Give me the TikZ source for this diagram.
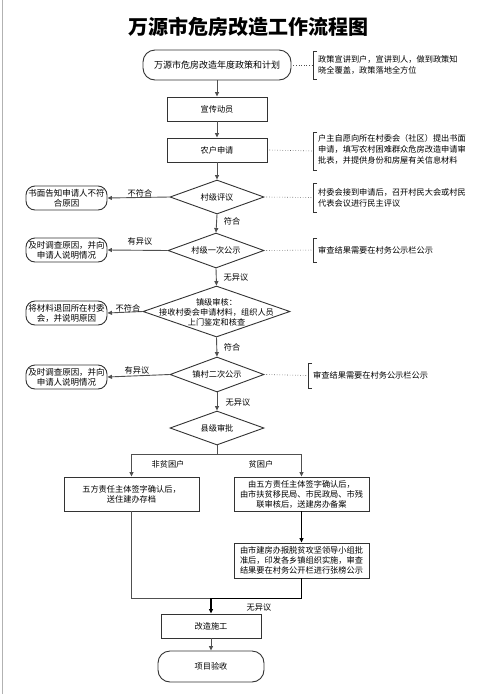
\documentclass[tikz,border=0pt]{standalone}
\usepackage{fontspec}
\setmainfont{Noto Sans CJK SC}
\newfontfamily\cjk{Noto Sans CJK SC}
\usetikzlibrary{shapes.geometric,arrows.meta}
\definecolor{lc}{HTML}{505050}
\definecolor{bc}{HTML}{333333}
\tikzset{
  every node/.style={font=\cjk\fontsize{8.2}{10}\selectfont, inner sep=0pt},
  boxn/.style={draw=bc, line width=0.9pt, rectangle, align=center},
  roundn/.style={draw=bc, line width=0.9pt, rectangle, rounded corners=11pt, align=center},
  sidebox/.style={draw=bc, line width=0.9pt, rectangle, rounded corners=9pt, align=center, minimum width=81pt, minimum height=24pt, font=\cjk\fontsize{8.5}{10}\selectfont},
  dia/.style={draw=bc, line width=0.9pt, diamond, minimum width=94pt, minimum height=34pt},
  arr/.style={draw=lc, line width=0.9pt, -{Triangle[length=4.5pt,width=4pt]}},
  conn/.style={draw=lc, line width=0.9pt},
  dotl/.style={draw=lc, line width=0.6pt, dotted},
  brk/.style={draw=bc, line width=0.9pt},
  note/.style={anchor=west, align=left, font=\cjk\fontsize{8.2}{11}\selectfont},
  lab/.style={font=\cjk\fontsize{8.2}{10}\selectfont}
}
\begin{document}
\begin{tikzpicture}[x=1pt,y=-1pt]
\useasboundingbox (0,0) rectangle (490,694);
\fill[white] (0,0) rectangle (490,694);
\draw[gray!60, line width=0.8pt] (2,0) -- (2,694);

% title
\node (title) at (248,27) {\cjk\bfseries\fontsize{20}{22}\selectfont 万源市危房改造工作流程图};

% main column
\node[roundn, rounded corners=12pt, minimum width=148pt, minimum height=30pt, font=\cjk\fontsize{9}{11}\selectfont] (S) at (217,65) {万源市危房改造年度政策和计划};
\node[boxn, minimum width=100pt, minimum height=24pt] (B1) at (217,109) {宣传动员};
\node[boxn, minimum width=100pt, minimum height=24pt] (B2) at (217,150) {农户申请};
\node[dia] (D1) at (217,197) {};
\node (D1t) at (D1) {村级评议};
\node[dia, minimum height=35pt, minimum width=96pt] (D2) at (216,250.5) {};
\node (D2t) at (D2) {村级一次公示};
\node[dia, minimum width=147pt, minimum height=51pt] (D3) at (216.5,311.5) {};
\node[align=center] (D3t) at (216.5,312) {镇级审核：\\接收村委会申请材料，组织人员\\上门鉴定和核查};
\node[dia, minimum height=35pt] (D4) at (217,374.5) {};
\node (D4t) at (D4) {镇村二次公示};
\node[dia] (D5) at (217,428) {};
\node (D5t) at (D5) {县级审批};

\node[boxn, minimum width=135pt, minimum height=34pt] (P1) at (131.5,494) {五方责任主体签字确认后，\\送住建办存档};
\node[boxn, minimum width=135pt, minimum height=34pt] (P2) at (301.5,494) {由五方责任主体签字确认后，\\由市扶贫移民局、市民政局、市残\\联审核后，送建房办备案};
\node[boxn, minimum width=135pt, minimum height=35pt] (P3) at (301.5,560.5) {由市建房办报脱贫攻坚领导小组批\\准后，印发各乡镇组织实施，审查\\结果要在村务公开栏进行张榜公示};
\node[boxn, minimum width=100pt, minimum height=24pt] (C) at (211,626) {改造施工};
\node[roundn, rounded corners=12pt, minimum width=106pt, minimum height=31pt] (E) at (211,666.5) {项目验收};

% left side nodes
\node[sidebox] (L1) at (66.5,198) {书面告知申请人不符\\合原因};
\node[sidebox] (L2) at (66.5,250) {及时调查原因，并向\\申请人说明情况};
\node[sidebox] (L3) at (66.5,313) {将材料退回所在村委\\会，并说明原因};
\node[sidebox] (L4) at (66.5,377) {及时调查原因，并向\\申请人说明情况};

% notes
\node[note] (A1) at (318,65) {政策宣讲到户，宣讲到人，做到政策知\\晓全覆盖，政策落地全方位};
\node[note] (A2) at (318,149.5) {户主自愿向所在村委会（社区）提出书面\\申请，填写农村困难群众危房改造申请审\\批表，并提供身份和房屋有关信息材料};
\node[note] (A3) at (318,197.5) {村委会接到申请后，召开村民大会或村民\\代表会议进行民主评议};
\node[note] (A4) at (318,250) {审查结果需要在村务公示栏公示};
\node[note] (A5) at (313,375) {审查结果需要在村务公示栏公示};

% brackets
\coordinate (k1) at (313,65);
\coordinate (k2) at (313,151);
\coordinate (k3) at (313,197.5);
\coordinate (k4) at (313,250);
\coordinate (k5) at (308,375.5);
\draw[brk] (317,51) -- (313,51) -- (313,79) -- (317,79);
\draw[brk] (317,132) -- (313,132) -- (313,170) -- (317,170);
\draw[brk] (317,183) -- (313,183) -- (313,212) -- (317,212);
\draw[brk] (317,238) -- (313,238) -- (313,262) -- (317,262);
\draw[brk] (312,363) -- (308,363) -- (308,388) -- (312,388);

% dotted links
\draw[dotl] (S.east) ++(2,0) -- (k1);
\draw[dotl] (B2.east) ++(2,0) -- (k2);
\draw[dotl] (D1.east) ++(2,0) -- (k3);
\draw[dotl] (D2.east) ++(2,0) -- (k4);
\draw[dotl] (D4.east) ++(2,0) -- (k5);

% main connectors
\draw[arr] (S.south) -- (B1.north);
\draw[arr] (B1.south) -- (B2.north);
\draw[arr] (B2.south) -- (D1.north);
\draw[arr] (D1.south) -- (D2.north);
\draw[arr] (D2.south) -- (D3.north);
\draw[arr] (D3.south) -- (D4.north);
\draw[arr] (D4.south) -- (D5.north);

\draw[arr] (D1.west) -- (L1.east);
\draw[arr] (D2.west) -- (L2.east);
\draw[arr] (D3.west) -- (L3.east);
\draw[arr] (D4.west) -- (L4.east);

% labels
\node[lab] (t1) at (140,193) {不符合};
\node[lab] (t2) at (140,241) {有异议};
\node[lab] (t3) at (128,308) {不符合};
\node[lab] (t4) at (137,370) {有异议};
\node[lab] (t5) at (232,221) {符合};
\node[lab] (t6) at (236,277) {无异议};
\node[lab] (t7) at (232,347.5) {符合};
\node[lab] (t8) at (238,402) {无异议};
\node[lab] (t9) at (168,464) {非贫困户};
\node[lab] (t10) at (261,464) {贫困户};
\node[lab] (t11) at (259,607) {无异议};

% split / join
\coordinate (split) at (217,454);
\coordinate (join) at (211,598);
\draw[conn] (D5.south) -- (split);
\draw[arr] (split) -| (P1.north);
\draw[arr] (split) -| (P2.north);
\draw[arr, draw=black] (P2.south) -- (P3.north);
\draw[conn, draw=black] (P3.south) |- (join);
\draw[conn] (P1.south) |- (join);
\draw[arr, draw=black, line width=1.2pt] (join) -- (C.north);
\draw[arr] (C.south) -- (E.north);
\end{tikzpicture}
\end{document}
